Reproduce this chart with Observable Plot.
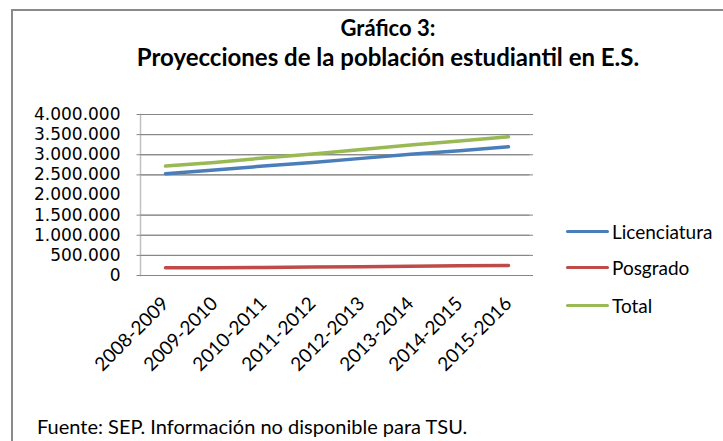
<!DOCTYPE html>
<html>
<head>
<meta charset="utf-8">
<script src="https://cdn.jsdelivr.net/npm/d3@7"></script>
<script src="https://cdn.jsdelivr.net/npm/@observablehq/plot@0.6"></script>
<style>
  html, body { margin: 0; padding: 0; background: #fff; }
  #wrap { position: relative; width: 723px; height: 441px; overflow: hidden; background: #fff; font-family: Lato, "Open Sans", sans-serif; color: #000; }
  #border { position: absolute; left: 11px; top: 9px; width: 800px; height: 600px; border: 2px solid #8a8a8a; box-sizing: border-box; }
  .title { position: absolute; font-weight: bold; white-space: nowrap; transform: translateX(-50%); line-height: 1.2; }
  #chart { position: absolute; left: 0; top: 0; }
  .leg { position: absolute; left: 566px; font-size: 19px; white-space: nowrap; display: flex; align-items: center; }
  .leg span.sw { display: inline-block; width: 43px; height: 3px; margin-right: 3px; border-radius: 2px; }
  #foot { position: absolute; left: 37px; top: 414px; font-size: 20px; white-space: nowrap; line-height: 1.2; }
</style>
</head>
<body>
<div id="wrap">
  <div id="border"></div>
  <div class="title" id="t1" style="left:388px; top:15px; font-size:22px;"></div>
  <div class="title" id="t2" style="left:388px; top:43px; font-size:24px;"></div>
  <div id="chart"></div>
  <div id="legend"></div>
  <div id="foot"></div>
</div>
<script>
const titleLine1 = "Gráfico 3:";
const titleLine2 = "Proyecciones de la población estudiantil en E.S.";
const footnote = "Fuente: SEP. Información no disponible para TSU.";

const years = ["2008-2009","2009-2010","2010-2011","2011-2012","2012-2013","2013-2014","2014-2015","2015-2016"];
const licenciatura = [2530000, 2620000, 2720000, 2810000, 2910000, 3010000, 3100000, 3200000];
const posgrado     = [ 190000,  190000,  200000,  210000,  220000,  230000,  240000,  250000];
const total        = [2720000, 2810000, 2920000, 3020000, 3130000, 3240000, 3340000, 3450000];

const seriesNames = ["Licenciatura", "Posgrado", "Total"];
const seriesColors = ["#4a7ebb", "#be4b48", "#98b954"];

const yTicks = [0, 500000, 1000000, 1500000, 2000000, 2500000, 3000000, 3500000, 4000000];
const gridTicks = [0, 500000, 1000000, 1500000, 2500000, 3000000, 3500000, 4000000];

document.getElementById("t1").textContent = titleLine1;
document.getElementById("t2").textContent = titleLine2;
document.getElementById("foot").textContent = footnote;

const seriesValues = [licenciatura, posgrado, total];
const data = seriesNames.flatMap((s, i) => years.map((yr, j) => ({series: s, year: yr, value: seriesValues[i][j]})));

const fmt = d3.formatLocale({decimal: ",", thousands: ".", grouping: [3], currency: ["", ""]}).format(",d");

const chart = Plot.plot({
  width: 723,
  height: 400,
  marginLeft: 140,
  marginRight: 190,
  marginTop: 114,
  marginBottom: 125,
  style: {background: "transparent", color: "#000", overflow: "visible"},
  x: {type: "point", domain: years, padding: 0.5},
  y: {domain: [0, 4000000]},
  color: {domain: seriesNames, range: seriesColors},
  marks: [
    Plot.gridY(gridTicks, {stroke: "#868686", strokeOpacity: 1, strokeWidth: 1}),
    Plot.frame({anchor: "left", stroke: "#c0c0c0", strokeWidth: 1.5}),
    Plot.tickY(gridTicks, {y: d => d, stroke: "#868686", dx: -3.5, inset: 0, marker: null}),
    Plot.axisY(yTicks, {tickSize: 0, tickPadding: 20, tickFormat: fmt, fontSize: 17, fontFamily: "DejaVu Sans", label: null}),
    Plot.axisX({tickSize: 0, tickPadding: 25, tickRotate: -45, fontSize: 19, fontFamily: "Lato", label: null}),
    Plot.lineY(data, {x: "year", y: "value", stroke: "series", strokeWidth: 3.5, strokeLinecap: "round"})
  ]
});
document.getElementById("chart").appendChild(chart);

const legendTops = [220, 256, 294];
const legend = document.getElementById("legend");
seriesNames.forEach((s, i) => {
  const row = document.createElement("div");
  row.className = "leg";
  row.style.top = legendTops[i] + "px";
  const sw = document.createElement("span");
  sw.className = "sw";
  sw.style.background = seriesColors[i];
  row.appendChild(sw);
  row.appendChild(document.createTextNode(s));
  legend.appendChild(row);
});
</script>
</body>
</html>
